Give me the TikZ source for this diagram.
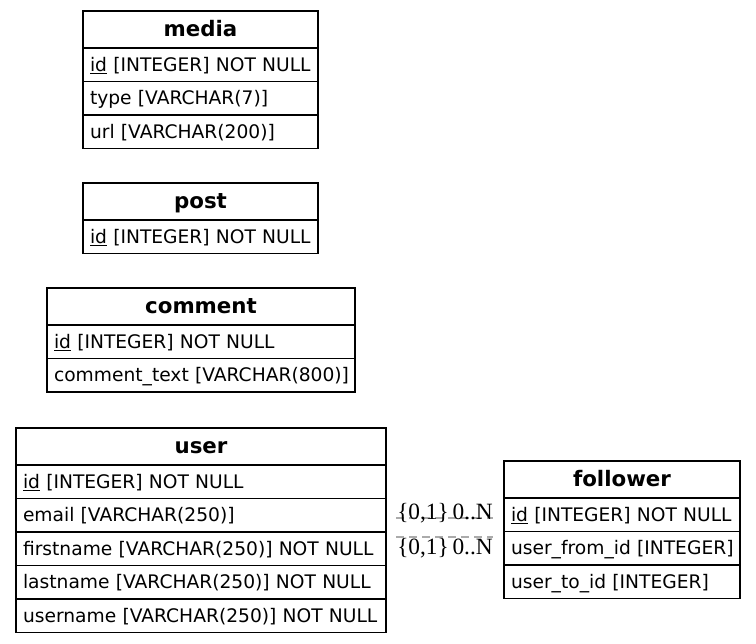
\documentclass[tikz,border=0pt]{standalone}
\usepackage{fontspec}
\setmainfont{DejaVu Sans}
\newfontfamily\lblfont{Liberation Serif}
\begin{document}
\begin{tikzpicture}[x=0.75pt,y=-0.75pt,
  tabhead/.style={draw, line width=0.8pt, outer sep=0pt, anchor=north west, minimum width=#1, minimum height=27.75pt, text height=13.5pt, text depth=3pt, inner sep=0pt, font=\bfseries\fontsize{16}{18}\selectfont},
  field/.style={draw, line width=0.8pt, outer sep=0pt, anchor=north west, text width=#1, minimum height=25.125pt, text height=13pt, text depth=3pt, inner xsep=5.25pt, inner ysep=0pt, align=left, font=\fontsize{14}{16}\selectfont},
  rel/.style={draw=black!33, line width=0.8pt, dash pattern=on 6pt off 3.75pt},
  card/.style={inner sep=0pt, font=\lblfont\fontsize{17.5}{19}\selectfont}
]
\useasboundingbox[fill=white] (0,0) rectangle (756,643);

% media
\node[tabhead=176.25pt] (media) at (83,11) {media};
\node[field=165.75pt] (media-id) at (media.south west) {\mbox{\underline{id} [INTEGER] NOT NULL}};
\node[field=165.75pt] (media-type) at (media-id.south west) {\mbox{type [VARCHAR(7)]}};
\node[field=165.75pt] (media-url) at (media-type.south west) {\mbox{url [VARCHAR(200)]}};

% post
\node[tabhead=176.25pt] (post) at (83,183) {post};
\node[field=165.75pt] (post-id) at (post.south west) {\mbox{\underline{id} [INTEGER] NOT NULL}};

% comment
\node[tabhead=231pt] (comment) at (47,288) {comment};
\node[field=220.5pt] (comment-id) at (comment.south west) {\mbox{\underline{id} [INTEGER] NOT NULL}};
\node[field=220.5pt] (comment-text) at (comment-id.south west) {\mbox{comment\_text [VARCHAR(800)]}};

% user
\node[tabhead=277.5pt] (user) at (16,428) {user};
\node[field=267pt] (user-id) at (user.south west) {\mbox{\underline{id} [INTEGER] NOT NULL}};
\node[field=267pt] (user-email) at (user-id.south west) {\mbox{email [VARCHAR(250)]}};
\node[field=267pt] (user-first) at (user-email.south west) {\mbox{firstname [VARCHAR(250)] NOT NULL}};
\node[field=267pt] (user-last) at (user-first.south west) {\mbox{lastname [VARCHAR(250)] NOT NULL}};
\node[field=267pt] (user-name) at (user-last.south west) {\mbox{username [VARCHAR(250)] NOT NULL}};

% follower
\node[tabhead=177pt] (follower) at (504,461) {follower};
\node[field=166.5pt] (follower-id) at (follower.south west) {\mbox{\underline{id} [INTEGER] NOT NULL}};
\node[field=166.5pt] (follower-from) at (follower-id.south west) {\mbox{user\_from\_id [INTEGER]}};
\node[field=166.5pt] (follower-to) at (follower-from.south west) {\mbox{user\_to\_id [INTEGER]}};

% relations
\coordinate (r1) at (0,518);
\coordinate (r2) at (0,537);
\draw[rel, shorten <=7.5pt, shorten >=8.25pt] (user-email.east |- r1) -- (follower-id.west |- r1);
\draw[rel, shorten <=7.5pt, shorten >=8.25pt] (user-first.east |- r2) -- (follower-from.west |- r2);

\node[card, anchor=base west] (c1t) at (397,519) {\{0,1\}};
\node[card, anchor=base east] (c1h) at (493,519) {0..N};
\node[card, anchor=base west] (c2t) at (397,554) {\{0,1\}};
\node[card, anchor=base east] (c2h) at (493,554) {0..N};
\end{tikzpicture}
\end{document}
